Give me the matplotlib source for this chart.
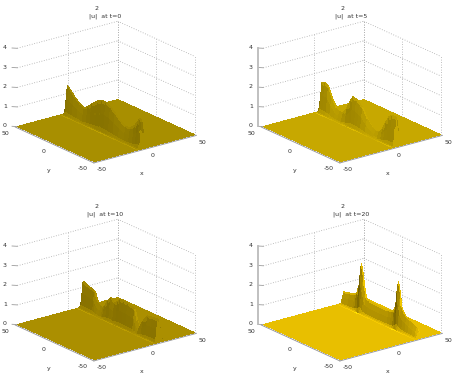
import numpy as np
import matplotlib
matplotlib.use('Agg')
import matplotlib.pyplot as plt

W, H = 457, 376

# ridge height along y
y_t0 = [50, 48.5, 47, 45, 42, 38, 32, 25, 20, 15, 8, 2, -3, -9, -15, -22, -29, -35, -40, -44, -47, -48.5, -50]
h_t0 = [0, 0.5, 1.5, 1.45, 1.3, 1.12, 0.9, 0.75, 0.9, 1.15, 1.4, 1.53, 1.55, 1.42, 1.2, 0.92, 0.75, 0.82, 1.0, 1.25, 1.5, 1.5, 0]
y_t5 = [50, 48.5, 47, 43, 38.5, 34, 28, 24, 19, 14, 9, 6.6, 2, -2, -6, -12, -19, -23, -27.5, -32, -36, -40, -44, -49, -50]
h_t5 = [0, 0.7, 1.55, 1.6, 1.5, 1.0, 0.55, 0.45, 0.5, 0.85, 1.35, 1.52, 1.5, 1.35, 1.2, 0.7, 0.36, 0.3, 0.35, 0.6, 1.0, 1.33, 1.48, 1.5, 0]
y_t10 = [50, 49, 48, 42, 37, 33, 31, 28, 25, 22, 20, 16, 12, 9, 7, 3, 0, -5, -10, -15, -19, -22, -25, -30, -36, -42, -49, -50]
h_t10 = [0, 0.6, 1.37, 1.25, 1.2, 1.15, 0.85, 0.6, 0.47, 0.5, 0.62, 0.95, 1.18, 1.05, 0.98, 1.15, 1.3, 1.3, 1.27, 1.2, 1.15, 0.6, 0.33, 0.75, 1.1, 1.13, 1.17, 0]
y_t20 = [50, 48, 40, 33, 31, 28, 26.5, 25, 23.5, 21, 19, 15, 10, 0, -11, -15, -18, -20, -21.5, -23, -24.5, -26, -30, -34, -38, -43, -47, -49, -50]
h_t20 = [0, 0.62, 0.7, 0.8, 0.88, 1.3, 2.0, 2.5, 2.0, 1.2, 0.83, 0.75, 0.72, 0.7, 0.72, 0.8, 0.92, 1.3, 2.0, 2.43, 2.0, 1.3, 0.95, 0.8, 0.67, 0.55, 0.47, 0.3, 0]

# ridge cross section, relative to its front
dx_ridge = [-100, -5, -3.5, -2, -0.5, 0.5, 1.5, 2.5, 3.5, 5, 7, 100]
p_ridge = [0, 0, 0, 0, 0, 0.15, 0.6, 1, 0.9, 0.5, 0, 0]
streak = [0, 0, 0.12, -0.03, 0, 0, 0, 0, 0, 0, 0]

y_lists = [y_t0, y_t5, y_t10, y_t20]
h_lists = [h_t0, h_t5, h_t10, h_t20]
front = [-5, 3.5, 11.5, 26]
floor_rgb = [(0.66, 0.56, 0.0), (0.78, 0.66, 0.0), (0.67, 0.56, 0.0), (0.91, 0.75, 0.0)]
wall_dark = [0.22, 0.22, 0.25, 0.42]
titles = ['|u|  at t=0', '|u|  at t=5', '|u|  at t=10', '|u|  at t=20']
z_line = [False, True, False, True]
centers = [(103.5, 94), (349.5, 94), (103.5, 292), (349.5, 292)]

x_ticks = [-50, 0, 50]
y_ticks = [-50, 0, 50]
z_ticks = [0, 1, 2, 3, 4]

plt.rcParams['font.family'] = ['DejaVu Sans']
fig = plt.figure(figsize=(W / 100, H / 100), dpi=100)

for i in range(4):
    cx, cy = centers[i]
    ax = fig.add_axes([(cx - 114) / W, 1 - (cy + 94) / H, 228 / W, 188 / H],
                      projection='3d', proj_type='ortho')
    ax.patch.set_alpha(0)
    ax.set_xticks([])
    ax.set_yticks([])
    ax.set_zticks([])
    ax.set_axis_off()
    ax.view_init(elev=20.5, azim=-127.5)
    ax.set_box_aspect((1, 1, 0.66), zoom=1.02)
    ax.set_xlim(-50, 50)
    ax.set_ylim(-50, 50)
    ax.set_zlim(0, 4)

    xs = np.clip(np.array(dx_ridge) + front[i], -50, 50)
    ys = np.array(y_lists[i])[::-1]
    hs = np.array(h_lists[i])[::-1]
    X, Y = np.meshgrid(xs, ys)
    Z = np.outer(hs, p_ridge)

    # facet shade from the slopes, back of the ridge is kept dark so it does not poke through
    dzx = np.diff(Z[:-1, :], axis=1) / np.maximum(np.diff(X[:-1, :], axis=1), 0.01)
    dzy = np.diff(Z[:, :-1], axis=0) / np.maximum(np.diff(Y[:, :-1], axis=0), 0.01)
    dzy[0, :] = 0
    dzy[-1, :] = 0
    shade = 1 - wall_dark[i] * np.tanh(np.abs(dzx) * 2) + 0.15 * np.tanh(dzy * 5)
    row_h = (hs[:-1] + hs[1:]) / 2
    shade = shade + np.outer(row_h / 1.5, streak)
    shade = np.clip(shade, 0.5, 1.2)
    base = np.array(floor_rgb[i])
    fc = np.clip(shade[..., None] * base, 0, 1)
    fc = np.dstack([fc, np.ones(shade.shape)])
    ax.plot_surface(X, Y, Z, facecolors=fc, shade=False, rcount=60, ccount=60,
                    linewidth=0, antialiased=False)

    # grid on the back walls
    grid = dict(color='#aaaaaa', lw=0.6, ls=(0, (1, 2)))
    for z in z_ticks:
        ax.plot([-50, 50], [50, 50], [z, z], **grid)
        ax.plot([50, 50], [50, -50], [z, z], **grid)
    for t in x_ticks[1:]:
        ax.plot([t, t], [50, 50], [0, 4], **grid)
    for t in y_ticks:
        ax.plot([50, 50], [t, t], [0, 4], **grid)

    # front edges stand a little off the surface
    ax.plot([-52, 50], [-52, -52], [0, 0], color='#999999', lw=0.7)
    ax.plot([-52, -52], [-52, 50], [0, 0], color='#999999', lw=0.7)

    # tick labels
    for z in z_ticks:
        ax.plot([-53, -50], [53, 50], [z, z], color='#888888', lw=0.5)
        ax.text(-57, 57, z, str(z), fontsize=4.5, ha='center', va='center', color='#333333')
    if z_line[i]:
        ax.plot([-53, -53], [53, 53], [0, 4], color='#bbbbbb', lw=1.3)
    for t in x_ticks:
        ax.text(t, -60, -0.2, str(t), fontsize=4.5, ha='center', va='center', color='#333333')
    for t in y_ticks:
        ax.text(-62, t, -0.2, str(t), fontsize=4.5, ha='center', va='center', color='#333333')
    ax.text(-20, -72, -0.6, 'x', fontsize=4.5, ha='center', va='center', color='#333333')
    ax.text(-72, -20, -0.7, 'y', fontsize=4.5, ha='center', va='center', color='#333333')
    fig.text((cx + 1.5) / W, 1 - (cy - 78) / H, titles[i], fontsize=4.5, ha='center', va='center', color='#333333')
    fig.text((cx - 7) / W, 1 - (cy - 85) / H, '2', fontsize=4.5, ha='center', va='center', color='#333333')

fig.savefig('out.png', dpi=100)
